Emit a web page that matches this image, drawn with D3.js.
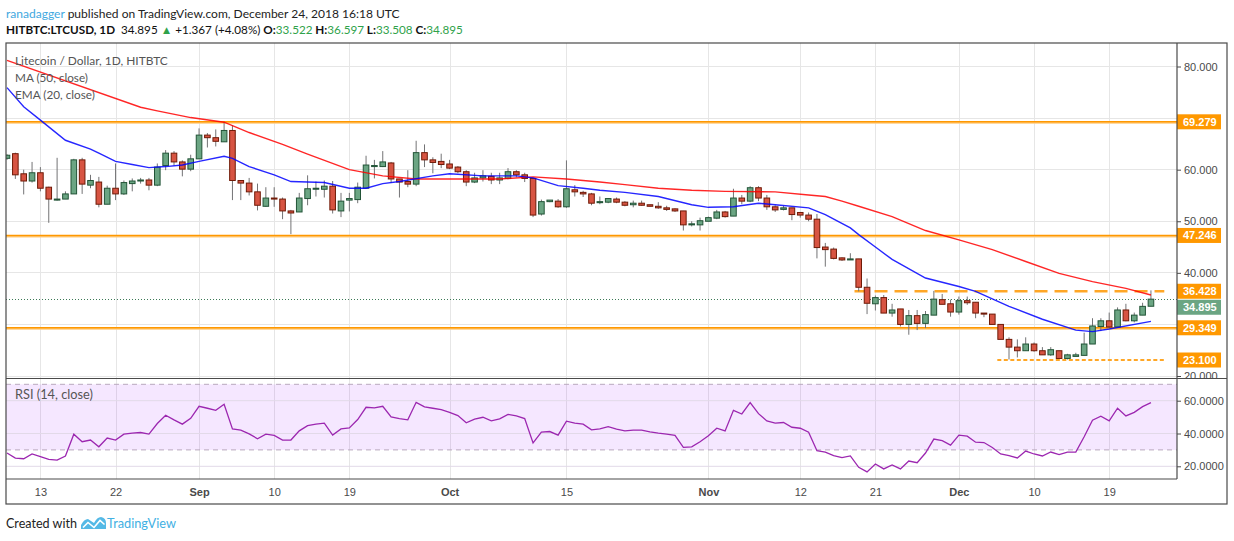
<!doctype html>
<meta charset="utf-8">
<title>LTCUSD 1D</title>
<style>
    html, body { margin: 0; background: #fff; }
    svg { display: block; font-family: "Liberation Sans", Arial, sans-serif; }
    .grid line { stroke: #e6e6e6; shape-rendering: crispEdges; }
    .axis text { fill: #4a4a4a; font-size: 11px; }
    .axis line { stroke: #4a4a4a; }
    .legend { fill: #555; font-family: Lato, "Open Sans", sans-serif; }
    .head { font-family: Lato, "Open Sans", sans-serif; white-space: pre; }
</style>
<svg width=1234 height=541></svg>
<script src="https://cdn.jsdelivr.net/npm/d3@7"></script>
<script>
    // daily candles, first one is Aug 9 2018
    var firstDay = new Date(Date.UTC(2018, 7, 9));

    var opens = [62.2, 63.1, 59.2, 57.8, 59.4, 56.6, 54.1, 54.3, 55.3, 61.9, 57.0, 57.6, 53.3, 56.4, 55.3, 57.3, 57.8, 58.0, 57.0, 60.8,
        63.2, 61.5, 60.1, 62.1, 66.7, 66.2, 65.4, 67.6, 57.9, 57.4, 55.7, 52.9, 54.5, 54.3, 52.0, 51.8, 54.4, 56.3, 56.2, 56.8,
        52.0, 54.1, 54.2, 56.4, 60.6, 60.6, 61.3, 58.2, 57.7, 57.2, 63.3, 61.9, 61.6, 61.1, 60.5, 59.6, 57.6, 58.4, 58.7, 58.0,
        58.3, 59.6, 59.0, 58.3, 51.4, 53.8, 53.9, 52.8, 56.1, 55.6, 55.3, 53.6, 53.7, 54.3, 53.7, 53.2, 53.5, 53.2, 52.9, 52.6,
        52.4, 52.0, 49.3, 49.3, 50.0, 50.6, 51.8, 51.0, 54.5, 53.9, 56.5, 54.5, 52.8, 52.3, 52.6, 51.7, 51.2, 50.4, 45.0, 44.6,
        42.9, 42.5, 42.7, 37.2, 34.0, 35.2, 32.2, 33.0, 30.0, 31.7, 30.2, 31.8, 34.8, 34.0, 32.4, 34.6, 34.3, 32.2, 32.0, 30.0,
        27.1, 25.6, 24.9, 26.2, 24.9, 24.1, 24.9, 23.4, 23.8, 24.0, 26.2, 29.6, 30.7, 29.5, 32.8, 30.7, 31.8, 33.522];
    var highs = [63.0, 63.3, 60.0, 61.5, 60.5, 56.7, 62.3, 55.8, 62.1, 62.3, 59.0, 58.6, 56.9, 61.2, 57.9, 58.3, 58.4, 58.4, 61.2, 63.8,
        63.6, 61.8, 62.9, 68.0, 67.1, 67.8, 69.3, 68.6, 57.9, 58.4, 57.3, 56.6, 56.6, 54.6, 52.2, 55.5, 58.9, 57.7, 57.9, 57.8,
        55.5, 55.5, 57.5, 62.7, 61.9, 63.6, 61.5, 58.2, 59.9, 65.6, 64.9, 62.4, 63.1, 61.9, 60.7, 59.9, 59.4, 59.9, 59.4, 59.4,
        60.3, 59.9, 59.4, 58.4, 54.2, 54.1, 54.3, 61.8, 57.0, 55.9, 55.5, 54.8, 54.5, 54.6, 53.9, 54.0, 54.0, 53.2, 53.7, 53.0,
        52.5, 52.0, 50.0, 50.7, 50.9, 52.2, 52.0, 56.3, 55.1, 56.8, 56.8, 55.1, 53.1, 53.0, 52.6, 51.8, 51.7, 51.4, 45.8, 44.9,
        43.0, 43.8, 42.7, 38.9, 35.6, 35.7, 34.0, 33.0, 32.8, 32.8, 32.6, 36.5, 35.9, 34.8, 35.4, 35.4, 34.3, 32.2, 32.0, 30.0,
        27.5, 27.1, 27.5, 26.5, 25.6, 25.6, 24.9, 24.3, 24.5, 28.4, 31.2, 31.2, 32.3, 33.3, 34.0, 32.3, 34.2, 36.597];
    var lows = [61.9, 58.2, 55.2, 57.5, 55.8, 49.7, 54.0, 54.3, 55.3, 55.3, 56.4, 52.7, 53.3, 54.1, 55.1, 55.8, 57.3, 56.0, 56.8, 59.9,
        60.8, 58.7, 59.7, 62.1, 64.3, 64.5, 65.4, 54.1, 54.1, 55.0, 52.1, 52.8, 52.8, 50.4, 47.5, 51.8, 53.1, 54.8, 54.6, 51.5,
        50.8, 51.9, 53.5, 56.4, 58.3, 60.5, 57.4, 54.6, 56.6, 56.8, 60.5, 59.3, 60.3, 60.1, 59.3, 56.8, 57.4, 57.7, 57.2, 57.2,
        58.1, 58.5, 57.6, 50.8, 51.1, 53.7, 52.6, 52.6, 54.8, 54.7, 53.1, 53.3, 53.5, 53.5, 52.9, 52.7, 53.0, 52.9, 52.4, 52.0,
        51.8, 48.2, 49.0, 48.2, 50.0, 50.4, 50.7, 51.0, 53.3, 53.7, 53.9, 52.2, 51.8, 52.1, 50.2, 50.7, 50.0, 42.8, 41.2, 42.6,
        42.3, 42.5, 36.4, 32.0, 32.7, 32.2, 31.5, 29.6, 28.0, 28.9, 29.3, 31.8, 33.9, 31.5, 31.9, 33.8, 31.2, 31.4, 30.0, 27.1,
        23.2, 23.6, 24.9, 24.7, 24.1, 23.9, 23.4, 23.2, 23.8, 24.0, 26.2, 28.7, 29.3, 29.5, 30.6, 30.4, 31.8, 33.508];
    var closes = [62.8, 59.0, 57.8, 59.4, 56.4, 54.3, 54.3, 55.3, 61.9, 57.2, 57.9, 53.3, 56.4, 55.3, 57.5, 57.8, 58.0, 57.0, 60.5, 63.2,
        61.5, 60.1, 62.1, 66.7, 66.2, 65.5, 67.6, 57.9, 57.4, 55.7, 53.1, 54.5, 54.3, 52.0, 51.6, 54.5, 56.3, 56.4, 56.8, 52.2,
        53.9, 54.4, 56.6, 60.9, 60.8, 61.5, 58.2, 57.6, 57.2, 63.3, 61.9, 61.4, 61.0, 60.3, 59.6, 57.6, 58.4, 58.8, 58.0, 58.4,
        59.6, 59.0, 58.3, 51.2, 53.8, 54.1, 52.8, 56.3, 55.7, 55.3, 53.5, 53.8, 54.4, 53.7, 53.1, 53.5, 53.1, 52.9, 52.6, 52.3,
        52.0, 49.3, 49.5, 50.1, 50.7, 51.8, 50.9, 54.5, 53.9, 56.5, 54.5, 52.8, 52.2, 52.6, 51.3, 51.2, 50.4, 44.9, 44.5, 42.8,
        42.5, 42.7, 37.2, 34.1, 35.2, 32.2, 32.8, 30.0, 31.7, 30.2, 31.9, 34.9, 33.9, 32.4, 34.6, 34.2, 32.2, 32.0, 30.0, 27.1,
        25.6, 24.9, 26.2, 24.9, 24.1, 25.1, 23.4, 24.1, 24.1, 26.2, 29.7, 30.7, 29.5, 32.8, 30.7, 31.8, 33.5, 34.895];

    // moving averages (day index, value)
    var maDays = [0, 16, 18, 22, 26, 29, 33, 36, 41, 45, 49, 53, 59, 63, 67, 71, 74, 78, 82, 86, 92, 96, 98, 100, 102, 106, 110, 114, 118, 122, 126, 130, 134, 137];
    var maValues = [81.2, 72.1, 71.4, 70.1, 69.2, 67.2, 64.9, 63.0, 60.0, 58.8, 58.2, 58.2, 58.2, 58.6, 58.2, 57.6, 57.1, 56.4, 56.0, 55.8, 55.7, 55.1, 54.8, 53.9, 52.9, 50.9, 48.2, 46.4, 44.5, 42.2, 39.9, 38.3, 37.0, 35.7];
    var emaDays = [0, 2, 4, 7, 10, 11, 13, 15, 17, 19, 21, 23, 26, 27, 29, 32, 34, 36, 38, 41, 43, 45, 47, 51, 53, 57, 61, 63, 66, 69, 71, 74, 78, 82, 84, 87, 90, 92, 96, 98, 101, 102, 104, 106, 110, 114, 116, 120, 124, 128, 130, 132, 137];
    var emaValues = [75.9, 72.2, 69.6, 65.7, 64.0, 63.2, 61.6, 61.0, 60.4, 60.6, 60.9, 61.6, 62.6, 62.2, 60.6, 59.0, 57.7, 57.6, 57.5, 56.4, 56.4, 57.3, 57.7, 58.8, 59.2, 58.8, 58.8, 58.4, 56.9, 56.4, 56.0, 55.6, 54.8, 53.2, 52.7, 52.8, 53.5, 53.2, 52.6, 51.3, 48.7, 47.4, 45.0, 42.6, 39.0, 37.35, 36.4, 33.5, 31.0, 28.9, 28.6, 29.1, 30.6];

    var rsiValues = [28.1, 25.0, 24.6, 27.5, 25.9, 24.2, 23.8, 26.3, 39.6, 35.0, 36.0, 31.9, 37.2, 36.0, 39.6, 40.2, 40.6, 39.6, 46.1, 51.1,
        48.3, 45.7, 49.3, 56.6, 55.4, 54.1, 57.8, 42.8, 42.0, 39.8, 36.8, 39.6, 38.8, 36.0, 36.0, 41.6, 44.8, 45.7, 46.3, 39.0,
        42.8, 43.4, 48.5, 56.0, 55.6, 56.6, 50.1, 49.1, 48.3, 59.0, 56.2, 55.4, 54.5, 52.9, 50.9, 46.5, 48.7, 49.9, 47.7, 48.9,
        51.7, 50.7, 49.1, 34.3, 40.8, 41.2, 39.0, 47.5, 46.3, 45.7, 42.2, 42.8, 44.2, 42.6, 41.6, 42.0, 42.0, 41.0, 40.2, 39.6,
        38.8, 31.5, 31.9, 35.0, 38.6, 43.2, 41.6, 54.1, 51.9, 58.8, 52.1, 47.7, 46.3, 46.7, 43.8, 43.2, 40.8, 29.5, 28.7, 26.5,
        25.3, 26.3, 19.4, 16.6, 21.4, 18.4, 20.8, 18.4, 23.2, 22.2, 28.1, 36.6, 35.6, 32.9, 39.0, 38.4, 34.7, 34.5, 31.5, 27.5,
        26.5, 25.1, 29.3, 27.5, 26.3, 28.7, 27.1, 28.7, 28.7, 38.0, 48.1, 50.5, 47.7, 55.4, 50.7, 52.9, 56.4, 58.8];

    // horizontal levels drawn on the chart
    var solidLevels = [69.279, 47.246, 29.349];
    var dashedLevel = 36.428, dashedFrom = 101.5;
    var dottedLevel = 23.100, dottedFrom = 118.6;
    var levelsTo = 138.6;
    var lastPrice = 34.895;

    var priceGrid = [20, 30, 40, 50, 60, 70, 80];
    var priceLabels = [20, 40, 50, 60, 80];
    var rsiTicks = [20, 40, 60];
    var timeTicks = ['2018-08-13', '2018-08-22', '2018-09-01', '2018-09-10', '2018-09-19', '2018-10-01', '2018-10-15',
        '2018-11-01', '2018-11-12', '2018-11-21', '2018-12-01', '2018-12-10', '2018-12-19'];

    var up = '#6ba583', upBorder = '#225437', down = '#d75442', downBorder = '#6f1a07', wick = '#737375';
    var orange = '#ff9800';
    var green = '#2fa24a';

    var svg = d3.select('svg');
    var pane = {left: 6, right: 1177, top: 43, bottom: 378};
    var rsiPane = {top: 378.5, bottom: 479};
    var frameBottom = 504;

    function dayAt(i) {
        return new Date(firstDay.getTime() + i * 864e5);
    }

    // shrink/grow the font until the text is as wide as in the snapshot
    function fit(text, width) {
        text.style('font-size', '14px');
        var w = text.node().getComputedTextLength();
        text.style('font-size', (14 * width / w).toFixed(2) + 'px');
        return text;
    }

    var x = d3.scaleUtc().domain([firstDay, dayAt(140)]).range([7, 7 + 140 * 8.35]);
    var y = d3.scaleLinear().domain([20, 80]).range([376, 66.5]);
    var yRsi = d3.scaleLinear().domain([20, 60]).range([466.3, 400.7]);

    var candles = closes.map(function (c, i) {
        return {date: dayAt(i), o: opens[i], h: highs[i], l: lows[i], c: c};
    });

    var defs = svg.append('defs');
    function clip(id, x0, y0, w, h) {
        defs.append('clipPath').attr('id', id).append('rect').attr('x', x0).attr('y', y0).attr('width', w).attr('height', h);
    }
    clip('clipPrice', pane.left, pane.top, pane.right - pane.left, pane.bottom - pane.top);
    clip('clipRsi', pane.left, rsiPane.top, pane.right - pane.left, rsiPane.bottom - rsiPane.top);
    clip('clipAxis', pane.right, pane.top, 60, pane.bottom - pane.top);

    // header
    var head1 = svg.append('text').attr('class', 'head').attr('x', 6).attr('y', 17.5);
    head1.append('tspan').attr('fill', '#42a8e0').text('ranadagger');
    head1.append('tspan').attr('fill', '#222').text(' published on TradingView.com, December 24, 2018 16:18 UTC');
    fit(head1, 394);

    var head2 = svg.append('text').attr('class', 'head').attr('x', 6).attr('y', 34);
    [['HITBTC:LTCUSD, 1D', '#111', 'bold'], ['  34.895 ', '#111', 'normal'], ['\u25B2', green, 'normal'],
        [' +1.367 (+4.08%) ', '#111', 'normal'], ['O:', '#111', 'bold'], ['33.522', green, 'normal'],
        [' H:', '#111', 'bold'], ['36.597', green, 'normal'], [' L:', '#111', 'bold'], ['33.508', green, 'normal'],
        [' C:', '#111', 'bold'], ['34.895', green, 'normal']].forEach(function (p) {
        head2.append('tspan').attr('fill', p[1]).style('font-weight', p[2]).text(p[0]);
    });
    fit(head2, 457);

    // grid
    var tickDates = timeTicks.map(function (t) { return new Date(t + 'T00:00:00Z'); });
    var grid = svg.append('g').attr('class', 'grid');
    grid.selectAll('.v').data(tickDates).enter().append('line')
        .attr('x1', function (d) { return Math.round(x(d)) + 0.5; })
        .attr('x2', function (d) { return Math.round(x(d)) + 0.5; })
        .attr('y1', pane.top).attr('y2', rsiPane.bottom);
    grid.selectAll('.h').data(priceGrid).enter().append('line')
        .attr('x1', pane.left).attr('x2', pane.right)
        .attr('y1', function (d) { return y(d); }).attr('y2', function (d) { return y(d); });

    // RSI pane
    var rsiG = svg.append('g').attr('clip-path', 'url(#clipRsi)');
    rsiG.append('rect').attr('x', pane.left).attr('width', pane.right - pane.left)
        .attr('y', yRsi(70)).attr('height', yRsi(30) - yRsi(70)).attr('fill', '#9915ff').attr('fill-opacity', 0.1);
    rsiG.selectAll('.rg').data(rsiTicks).enter().append('line')
        .attr('x1', pane.left).attr('x2', pane.right)
        .attr('y1', function (d) { return yRsi(d); }).attr('y2', function (d) { return yRsi(d); })
        .attr('stroke', '#e2d9e8');
    rsiG.selectAll('.band').data([70, 30]).enter().append('line')
        .attr('x1', pane.left).attr('x2', pane.right)
        .attr('y1', function (d) { return yRsi(d); }).attr('y2', function (d) { return yRsi(d); })
        .attr('stroke', '#b8a8bd').attr('stroke-dasharray', '5,4');
    rsiG.append('path').datum(rsiValues)
        .attr('fill', 'none').attr('stroke', '#9c27b0').attr('stroke-width', 1.3)
        .attr('d', d3.line().x(function (d, i) { return x(dayAt(i)); }).y(function (d) { return yRsi(d); }));
    fit(svg.append('text').attr('class', 'legend').attr('x', 15).attr('y', 398.5).text('RSI (14, close)'), 78);

    // price pane
    var g = svg.append('g').attr('clip-path', 'url(#clipPrice)');

    solidLevels.forEach(function (v) {
        g.append('line').attr('x1', pane.left).attr('x2', pane.right).attr('y1', y(v) + 1).attr('y2', y(v) + 1)
            .attr('stroke', '#ffcc80').attr('stroke-width', 2);
        g.append('line').attr('x1', pane.left).attr('x2', pane.right).attr('y1', y(v)).attr('y2', y(v))
            .attr('stroke', orange).attr('stroke-width', 1.6);
    });
    g.append('line').attr('x1', x(dayAt(dashedFrom))).attr('x2', x(dayAt(levelsTo)))
        .attr('y1', y(dashedLevel)).attr('y2', y(dashedLevel))
        .attr('stroke', orange).attr('stroke-width', 2.5).attr('stroke-opacity', 0.85).attr('stroke-dasharray', '13,7');
    g.append('line').attr('x1', x(dayAt(dottedFrom))).attr('x2', x(dayAt(levelsTo)))
        .attr('y1', y(dottedLevel)).attr('y2', y(dottedLevel))
        .attr('stroke', orange).attr('stroke-width', 2).attr('stroke-opacity', 0.85).attr('stroke-dasharray', '4,2.5');
    g.append('line').attr('x1', pane.left).attr('x2', pane.right)
        .attr('y1', Math.round(y(lastPrice)) + 0.5).attr('y2', Math.round(y(lastPrice)) + 0.5)
        .attr('stroke', '#3d7a57').attr('stroke-dasharray', '1,2');

    var candle = g.selectAll('.candle').data(candles).enter().append('g');
    candle.append('line')
        .attr('x1', function (d) { return x(d.date); }).attr('x2', function (d) { return x(d.date); })
        .attr('y1', function (d) { return y(d.h); }).attr('y2', function (d) { return y(d.l); })
        .attr('stroke', wick);
    candle.append('rect')
        .attr('x', function (d) { return x(d.date) - 2.8; }).attr('width', 5.6)
        .attr('y', function (d) { return y(Math.max(d.o, d.c)); })
        .attr('height', function (d) { return Math.max(1, Math.abs(y(d.o) - y(d.c))); })
        .attr('fill', function (d) { return d.c >= d.o ? up : down; })
        .attr('stroke', function (d) { return d.c >= d.o ? upBorder : downBorder; })
        .attr('stroke-width', 1);

    var lineMa = d3.line().x(function (d) { return x(dayAt(d[0])); }).y(function (d) { return y(d[1]); });
    g.append('path').datum(d3.zip(maDays, maValues)).attr('fill', 'none')
        .attr('stroke', '#ff0000').attr('stroke-opacity', 0.85).attr('stroke-width', 1.4).attr('d', lineMa);
    g.append('path').datum(d3.zip(emaDays, emaValues)).attr('fill', 'none')
        .attr('stroke', '#0000ff').attr('stroke-opacity', 0.85).attr('stroke-width', 1.4).attr('d', lineMa);

    fit(svg.append('text').attr('class', 'legend').attr('x', 15).attr('y', 65).text('Litecoin / Dollar, 1D, HITBTC'), 153);
    fit(svg.append('text').attr('class', 'legend').attr('x', 15).attr('y', 82).text('MA (50, close)'), 73);
    fit(svg.append('text').attr('class', 'legend').attr('x', 15).attr('y', 98.5).text('EMA (20, close)'), 80);

    // axes
    var priceAxis = svg.append('g').attr('clip-path', 'url(#clipAxis)').append('g').attr('class', 'axis')
        .attr('transform', 'translate(' + pane.right + ',0)')
        .call(d3.axisRight(y).tickValues(priceLabels).tickSize(4).tickPadding(3).tickFormat(d3.format('.3f')));
    priceAxis.select('.domain').remove();

    var rsiAxis = svg.append('g').attr('class', 'axis')
        .attr('transform', 'translate(' + pane.right + ',0)')
        .call(d3.axisRight(yRsi).tickValues(rsiTicks).tickSize(4).tickPadding(3).tickFormat(d3.format('.4f')));
    rsiAxis.select('.domain').remove();

    var timeAxis = svg.append('g').attr('class', 'axis')
        .attr('transform', 'translate(0,' + rsiPane.bottom + ')')
        .call(d3.axisBottom(x).tickValues(tickDates).tickSize(0).tickPadding(9)
            .tickFormat(function (d) { return d.getUTCDate() === 1 ? d3.utcFormat('%b')(d) : d.getUTCDate(); }));
    timeAxis.select('.domain').remove();
    timeAxis.selectAll('text').style('font-weight', function (d) { return d.getUTCDate() === 1 ? 'bold' : 'normal'; })
        .attr('fill', '#555');

    // value tags on the price axis, pushed apart when they would overlap
    var tags = solidLevels.concat([dashedLevel, dottedLevel]).map(function (v) { return {v: v, c: orange}; });
    tags.push({v: lastPrice, c: up});
    tags.sort(function (a, b) { return b.v - a.v; });
    var prevY = -Infinity;
    tags.forEach(function (t) {
        t.y = Math.max(y(t.v), prevY + 16);
        prevY = t.y;
    });
    var tag = svg.append('g').selectAll('g').data(tags).enter().append('g')
        .attr('transform', function (d) { return 'translate(' + pane.right + ',' + d.y + ')'; });
    tag.append('rect').attr('x', 0).attr('y', -7.5).attr('width', 44).attr('height', 15).attr('fill', function (d) { return d.c; });
    tag.append('text').attr('x', 6).attr('dy', '0.36em').attr('fill', '#fff').style('font-size', '11px')
        .style('font-weight', 'bold').text(function (d) { return d.v.toFixed(3); });

    // frame
    var frame = svg.append('g').attr('fill', 'none').attr('stroke', '#4a4a4a').attr('stroke-width', 1.2);
    frame.append('rect').attr('x', 6).attr('y', 43).attr('width', 1221).attr('height', frameBottom - 43);
    frame.append('line').attr('x1', pane.right).attr('x2', pane.right).attr('y1', 43).attr('y2', rsiPane.bottom);
    frame.append('line').attr('x1', 6).attr('x2', 1227).attr('y1', pane.bottom + 0.5).attr('y2', pane.bottom + 0.5);
    frame.append('line').attr('x1', 6).attr('x2', pane.right).attr('y1', rsiPane.bottom).attr('y2', rsiPane.bottom);

    // footer
    var foot = svg.append('g');
    fit(foot.append('text').attr('class', 'head').attr('x', 6).attr('y', 528).attr('fill', '#222').text('Created with'), 71);
    foot.append('path').attr('fill', '#54b9e6')
        .attr('d', 'M81,529 L81,525 Q84,519 88,519 L94,523 Q97,517 101,517 Q106,518 106,523 L106,529 Z');
    foot.append('polyline').attr('fill', 'none').attr('stroke', '#fff').attr('stroke-width', 1.6)
        .attr('points', '83,527.5 88,522.5 94,527.5 100,520.5 104.5,524.5');
    fit(foot.append('text').attr('class', 'head').attr('x', 107).attr('y', 528).attr('fill', '#42b0e3').text('TradingView'), 69);
</script>
